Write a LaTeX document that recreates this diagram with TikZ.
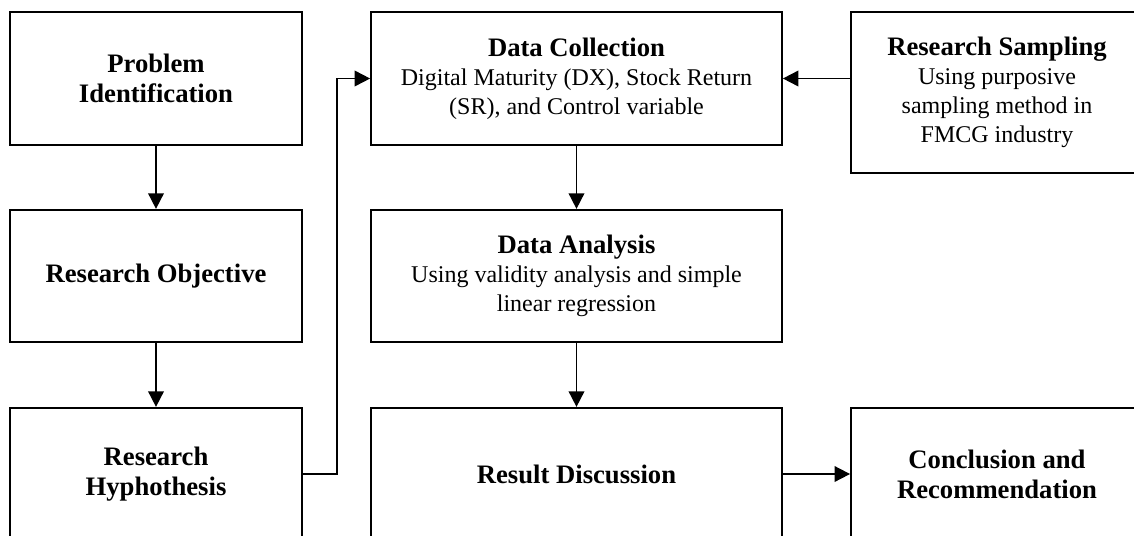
\documentclass[tikz,border=0pt]{standalone}
\usepackage{fontspec}
\setmainfont{Liberation Serif}
\usetikzlibrary{arrows.meta}

\newcommand{\boxtitle}[1]{{\fontsize{12}{13.5}\selectfont\bfseries #1}}

\begin{document}
\begin{tikzpicture}[x=0.45pt, y=-0.45pt,
    box/.style={draw, line width=0.8pt, align=center, inner sep=0pt,
      font=\fontsize{12}{13.5}\selectfont},
    detail/.style={font=\fontsize{10.8}{13}\selectfont},
    narrowbox/.style={box, minimum width=131.4pt, minimum height=59.6pt},
    widebox/.style={box, minimum width=184.9pt, minimum height=59.6pt},
    arr/.style={-{Triangle[length=7pt,width=7pt]}, line width=0.8pt}]

    \fill[white] (0,0) rectangle (1134,535);
    \useasboundingbox (0,0) rectangle (1134,535);

    % left column
    \node[narrowbox] (prob) at (156,78.5) {\textbf{Problem}\\\textbf{Identification}};
    \node[narrowbox] (obj) at (156,276) {\textbf{Research Objective}};
    \node[narrowbox] (hyp) at (156,474) {\textbf{Research}\\\textbf{Hyphothesis}};

    % middle column
    \node[widebox, detail] (coll) at (576.5,78.5) {\boxtitle{Data Collection}\\
      Digital Maturity (DX), Stock Return\\(SR), and Control variable};
    \node[widebox, detail] (anal) at (576.5,276) {\boxtitle{Data Analysis}\\
      Using validity analysis and simple\\linear regression};
    \node[widebox] (res) at (576.5,474) {\textbf{Result Discussion}};

    % right column
    \node[narrowbox, detail, minimum height=72.4pt] (samp) at (997,92.5) {\boxtitle{Research Sampling}\\
      Using purposive\\sampling method in\\FMCG industry};
    \node[narrowbox] (concl) at (997,474) {\textbf{Conclusion and}\\\textbf{Recommendation}};

    \coordinate (bend) at (337,0);

    \draw [arr] (prob) -- (obj);
    \draw [arr] (obj) -- (hyp);
    \draw [arr] (hyp.east) -- (hyp.east -| bend) -- (bend |- coll.west) -- (coll.west);
    \draw [arr] (samp.west |- coll.east) -- (coll.east);
    \draw [arr] (coll) -- (anal);
    \draw [arr] (anal) -- (res);
    \draw [arr] (res) -- (concl);

  \end{tikzpicture}
\end{document}
